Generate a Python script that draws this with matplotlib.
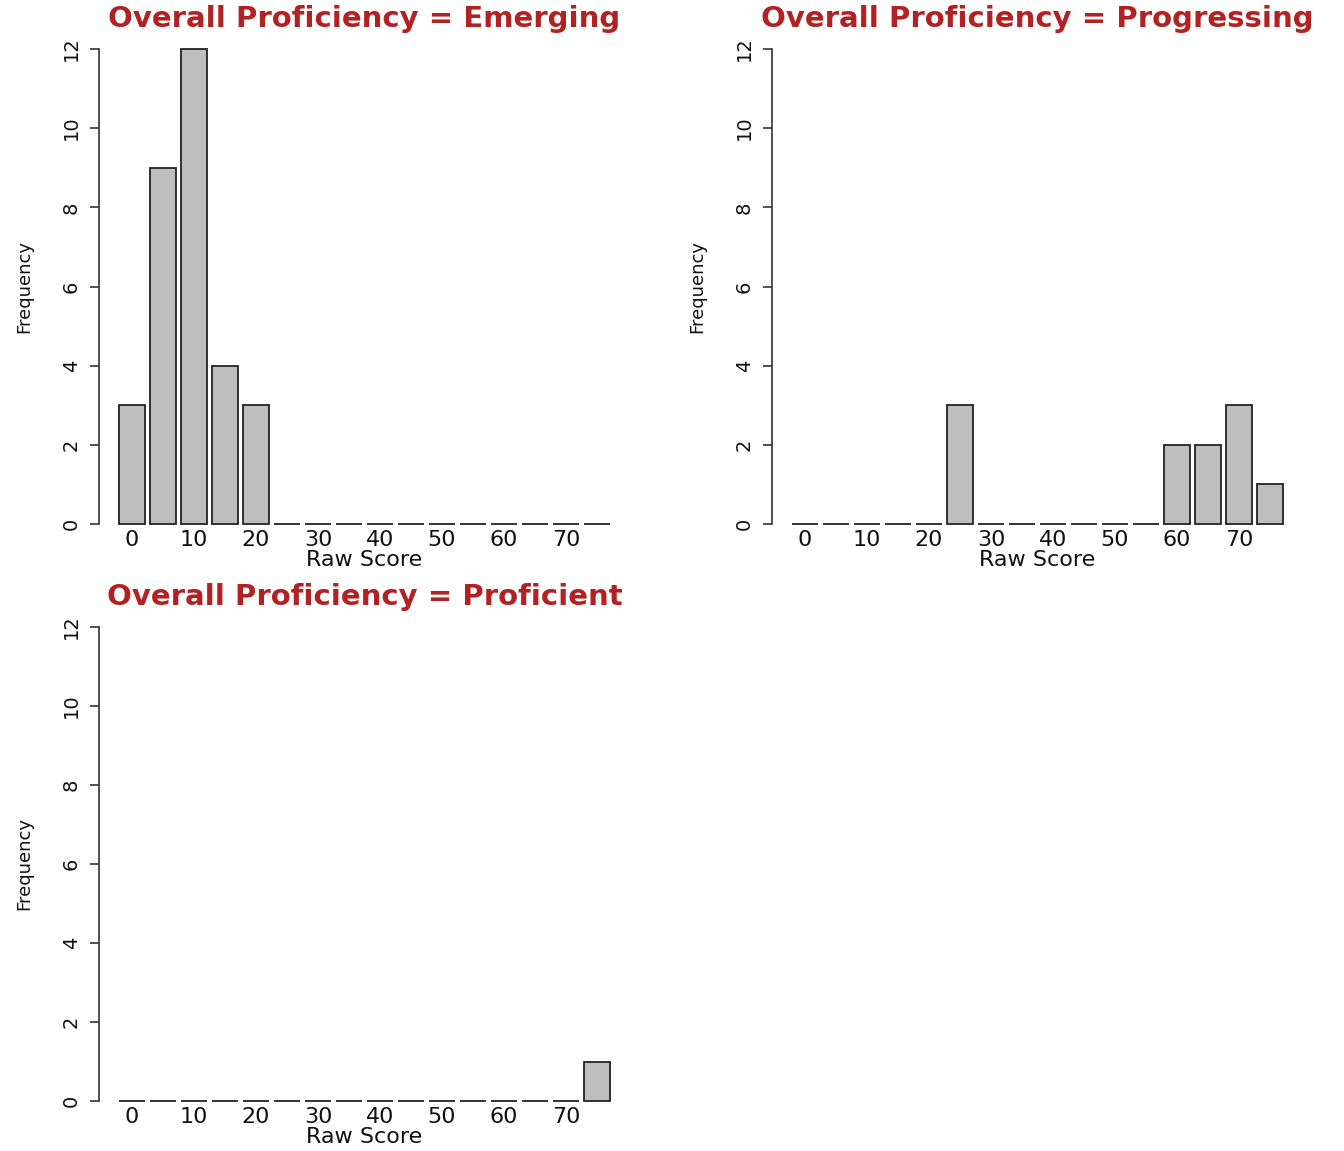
import matplotlib
matplotlib.use("Agg")
import matplotlib.pyplot as plt
import numpy as np

W, H = 1344, 1151
DPI = 100

# Data: histogram counts per 5-point bin (0-5, 5-10, ..., 75-80)
bin_labels = ["0", "10", "20", "30", "40", "50", "60", "70"]
titles = ["Overall Proficiency = Emerging",
          "Overall Proficiency = Progressing",
          "Overall Proficiency = Proficient"]
emerging = [3, 9, 12, 4, 3, 0, 0, 0, 0, 0, 0, 0, 0, 0, 0, 0]
progressing = [0, 0, 0, 0, 0, 3, 0, 0, 0, 0, 0, 0, 2, 2, 3, 1]
proficient = [0, 0, 0, 0, 0, 0, 0, 0, 0, 0, 0, 0, 0, 0, 0, 1]
y_ticks = [0, 2, 4, 6, 8, 10, 12]

series = [emerging, progressing, proficient]

fig = plt.figure(figsize=(W / DPI, H / DPI), dpi=DPI)
fig.patch.set_facecolor("white")

# panel positions in pixels: (left, right, y_of_zero, y_of_twelve)
panels = [(99.4, 629.6, 524, 49),
          (772.4, 1302.6, 524, 49),
          (99.4, 629.6, 1101, 627)]

title_color = "#B22222"
bar_fc = "#BEBEBE"
edge = "#222222"

for k, (counts, title, (l, r, y0, y12)) in enumerate(zip(series, titles, panels)):
    ax = fig.add_axes([l / W, 1 - y0 / H, (r - l) / W, (y0 - y12) / H])
    n = len(counts)
    lefts = 0.2 + 1.2 * np.arange(n)
    centers = lefts + 0.5
    ax.bar(centers, counts, width=1.0, color=bar_fc, edgecolor=edge,
           linewidth=1.3, clip_on=False, zorder=3)
    ax.set_xlim(-0.56, 19.96)
    ax.set_ylim(0, 12)
    for s in ["top", "right", "bottom"]:
        ax.spines[s].set_visible(False)
    ax.spines["left"].set_bounds(0, 12)
    ax.spines["left"].set_color("#333333")
    ax.spines["left"].set_linewidth(1.2)
    ax.set_yticks(y_ticks)
    ax.set_yticklabels([str(v) for v in y_ticks], rotation=90, va="center",
                       fontsize=14, color="#111111")
    ax.tick_params(axis="y", length=6.5, width=1.2, color="#333333", pad=7)
    ax.set_xticks(centers[::2])
    ax.set_xticklabels(bin_labels, fontsize=16, color="#111111")
    ax.tick_params(axis="x", length=0, pad=4)
    ax.set_facecolor("none")

    cx = (l + r) / 2
    fig.text(cx / W, 1 - (y12 - 30) / H, title, ha="center", va="center",
             fontsize=21, fontweight="bold", color=title_color)
    fig.text(cx / W, 1 - (y0 + 36) / H, "Raw Score", ha="center", va="center",
             fontsize=16, color="#111111")
    fig.text((l - 75) / W, 1 - ((y0 + y12) / 2) / H, "Frequency", ha="center",
             va="center", rotation=90, fontsize=13, color="#111111")

fig.savefig("out.png", dpi=DPI, facecolor="white")
